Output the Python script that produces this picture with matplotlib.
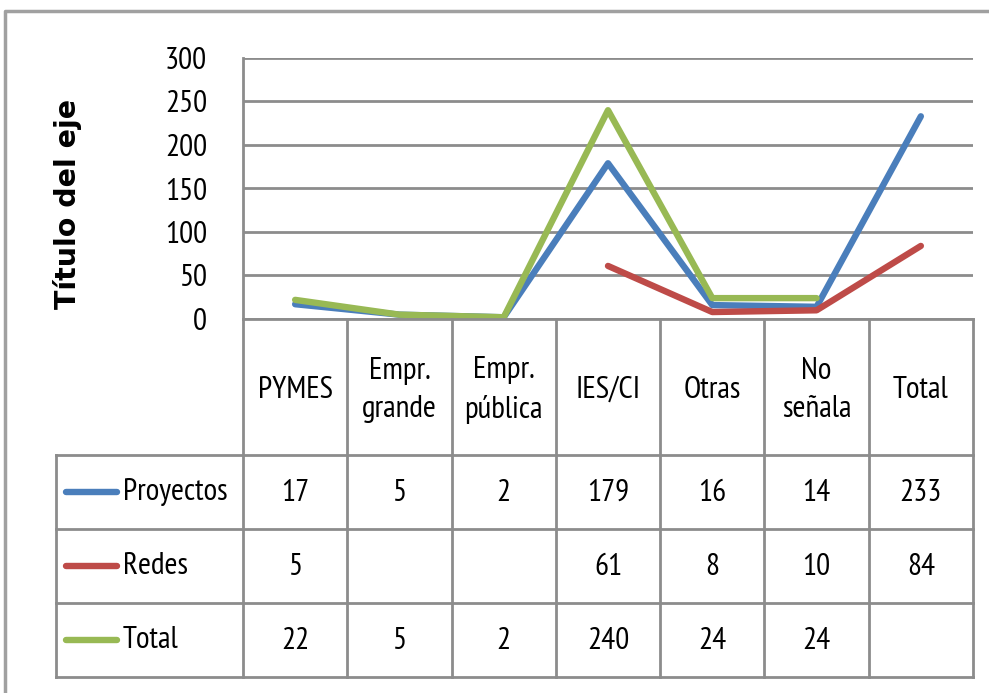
import numpy as np
import matplotlib
matplotlib.use("Agg")
import matplotlib.pyplot as plt
from matplotlib.lines import Line2D

categories = ["PYMES", "Empr.\ngrande", "Empr.\npública", "IES/CI", "Otras", "No\nseñala", "Total"]
series_names = ["Proyectos", "Redes", "Total"]
proyectos = [17, 5, 2, 179, 16, 14, 233]
redes = [5, None, None, 61, 8, 10, 84]
total = [22, 5, 2, 240, 24, 24, None]
y_ticks = [0, 50, 100, 150, 200, 250, 300]
colors = ["#4A7EBB", "#BE4B48", "#98B954"]
axis_title = "Título del eje"

narrow = ["PT Sans Narrow", "DejaVu Sans"]
FS = 22.5

W, H = 989, 693
fig = plt.figure(figsize=(W / 100, H / 100), dpi=100)
fig.patch.set_facecolor("white")

def fx(x):
    return x / W

def fy(y):
    return 1 - y / H

grid_c = "#8C8C8C"

# plot area
left, right, top, bottom = 243, 973, 58, 319
ax = fig.add_axes([fx(left), fy(bottom), fx(right) - fx(left), fy(top) - fy(bottom)])
n = len(categories)
x = np.arange(n) + 0.5
for vals, c in zip([proyectos, redes, total], colors):
    v = np.array([np.nan if a is None else a for a in vals], dtype=float)
    ax.plot(x, v, color=c, lw=4.6, solid_capstyle="round", solid_joinstyle="round", zorder=3)
ax.set_xlim(0, n)
ax.set_ylim(0, 300)
ax.set_yticks(y_ticks)
ax.set_yticklabels([str(t) for t in y_ticks], fontfamily=narrow, fontsize=FS)
ax.tick_params(axis="y", length=0, pad=26)
ax.set_xticks([])
for s in ["top", "right", "bottom"]:
    ax.spines[s].set_visible(False)
ax.spines["left"].set_color(grid_c)
ax.spines["left"].set_linewidth(2)
ax.yaxis.grid(True, color=grid_c, lw=2)
ax.set_axisbelow(True)
ax.set_facecolor("none")

fig.text(fx(67), fy(204), axis_title, rotation=90, ha="center", va="center",
         fontsize=20.5, fontweight="bold", family="DejaVu Sans")

# outer border
def fline(xs, ys, c=grid_c, lw=2, **kw):
    fig.add_artist(Line2D([fx(a) for a in xs], [fy(b) for b in ys], color=c, lw=lw, **kw))

fline([5, 5, W + 5], [H + 5, 11, 11], c="#A0A0A0", lw=2.5)

# table
col_edges = [left + i * (right - left) / n for i in range(n + 1)]
row_edges = [319, 455, 529, 603, 677]
tleft = 56
fline([left, right], [row_edges[0]] * 2)
for ry in row_edges[1:]:
    fline([tleft, right], [ry] * 2)
for cx in col_edges:
    fline([cx, cx], [row_edges[0], row_edges[-1]])
fline([tleft, tleft], [row_edges[1], row_edges[-1]])

# header
for i, cat in enumerate(categories):
    cx = (col_edges[i] + col_edges[i + 1]) / 2
    fig.text(fx(cx), fy(390), cat, ha="center", va="center", fontsize=FS,
             family=narrow, linespacing=1.45)

# rows
for r, (name, vals, c) in enumerate(zip(series_names, [proyectos, redes, total], colors)):
    cy = (row_edges[r + 1] + row_edges[r + 2]) / 2
    fline([66, 117], [cy, cy], c=c, lw=4.6, solid_capstyle="round")
    fig.text(fx(123), fy(cy), name, ha="left", va="center", fontsize=FS, family=narrow)
    for i, v in enumerate(vals):
        if v is None:
            continue
        cx = (col_edges[i] + col_edges[i + 1]) / 2
        fig.text(fx(cx), fy(cy + 1), str(v), ha="center", va="center", fontsize=FS, family=narrow)

fig.savefig("out.png", dpi=100, facecolor="white")
